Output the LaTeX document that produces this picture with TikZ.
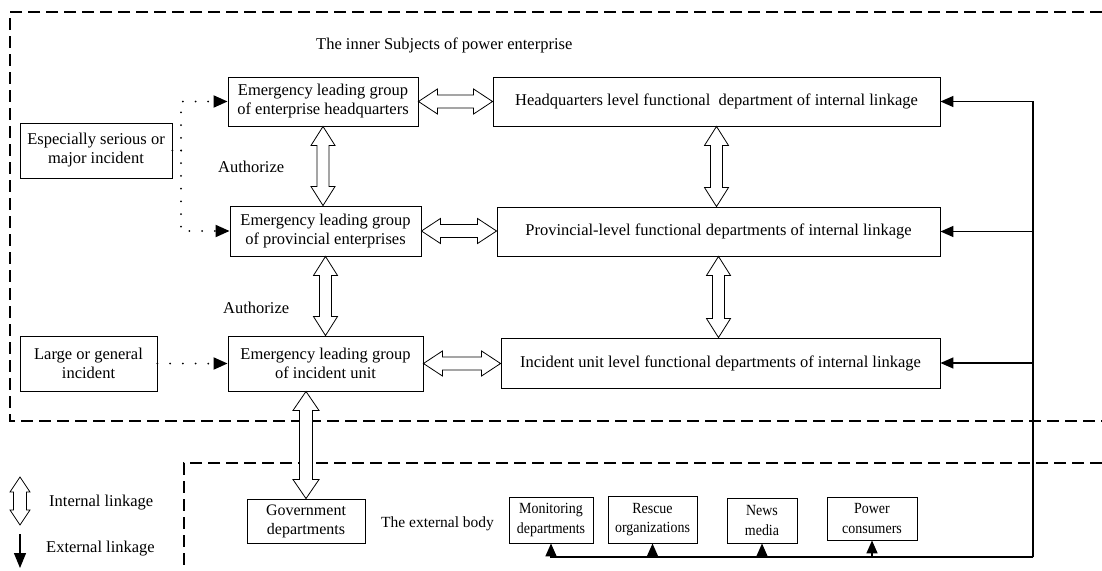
\documentclass[tikz,border=0pt]{standalone}
\usepackage{fontspec}
\setmainfont{Liberation Serif}
\newfontfamily\condfont[FakeStretch=0.9]{Liberation Serif}
\usetikzlibrary{arrows.meta,calc}

% vertical hollow double arrow: top tip #1, bottom tip #2 (x taken from #2)
\newcommand{\vdbl}[5]{%
  \draw[hollow] let \p1=#1, \p2=#2 in
    (\x2,\y1) -- (\x2+#3,\y1-#5) -- (\x2+#4,\y1-#5) -- (\x2+#4,\y2+#5)
    -- (\x2+#3,\y2+#5) -- (\x2,\y2) -- (\x2-#3,\y2+#5) -- (\x2-#4,\y2+#5)
    -- (\x2-#4,\y1-#5) -- (\x2-#3,\y1-#5) -- cycle;}
% horizontal hollow double arrow: left tip #1, right tip #2 (y taken from #1)
\newcommand{\hdbl}[5]{%
  \draw[hollow] let \p1=#1, \p2=#2 in
    (\x1,\y1) -- (\x1+#5,\y1+#3) -- (\x1+#5,\y1+#4) -- (\x2-#5,\y1+#4)
    -- (\x2-#5,\y1+#3) -- (\x2,\y1) -- (\x2-#5,\y1-#3) -- (\x2-#5,\y1-#4)
    -- (\x1+#5,\y1-#4) -- (\x1+#5,\y1-#3) -- cycle;}

\begin{document}
\begin{tikzpicture}[x=1pt,y=-1pt,
  font=\fontsize{16.5}{19}\selectfont,
  box/.style={draw, line width=0.9pt, align=center, inner sep=0pt},
  smallbox/.style={box, font=\condfont\fontsize{15.5}{19.5}\selectfont},
  hollow/.style={draw, line width=0.8pt, fill=white, line join=miter},
  dotline/.style={line width=2pt, dash pattern=on 0pt off 12.7pt, line cap=round},
  ext/.style={line width=1.6pt},
  dashbox/.style={line width=1.2pt, dash pattern=on 12pt off 6pt},
  solidtip/.style={-{Triangle[length=13pt,width=11pt]}},
  dottip/.style={-{Triangle[length=14pt,width=12pt]}},
  lbl/.style={anchor=west, inner sep=0pt}
]
\useasboundingbox (0,0) rectangle (1102,570);

% dashed frames
\draw[dashbox] (1102,12) -- (10,12) -- (10,421) -- (1102,421);
\draw[dashbox] (1102,463) -- (184,463) -- (184,570);

% inner subjects
\node[lbl] (title) at (316,45) {The inner Subjects of power enterprise};

\node[box, minimum width=190pt, minimum height=49pt] (hqg) at (323,101.5)
  {Emergency leading group\\of enterprise headquarters};
\node[box, minimum width=191pt, minimum height=50pt] (provg) at (325.5,231)
  {Emergency leading group\\of provincial enterprises};
\node[box, minimum width=195pt, minimum height=55pt] (incg) at (325.5,363.5)
  {Emergency leading group\\of incident unit};

\node[box, minimum width=152pt, minimum height=55pt] (serious) at (96,150.5)
  {Especially serious or\\major incident};
\node[box, minimum width=137pt, minimum height=55pt] (large) at (88.5,363.5)
  {Large or general\\incident};

\node[box, minimum width=447pt, minimum height=49pt] (hqf) at (716.5,101.5)
  {Headquarters level functional~ department of internal linkage};
\node[box, minimum width=443pt, minimum height=49pt] (provf) at (718.5,231.5)
  {Provincial-level functional departments of internal linkage};
\node[box, minimum width=439pt, minimum height=50pt] (incf) at (720.5,363)
  {Incident unit level functional departments of internal linkage};

\node[lbl] (auth1) at (218,167) {Authorize};
\node[lbl] (auth2) at (223,308) {Authorize};

% external body
\node[box, minimum width=118pt, minimum height=44pt, font=\fontsize{16}{19}\selectfont] (gov) at (306,521)
  {Government\\departments};
\node[lbl, font=\fontsize{15.5}{19}\selectfont] (extlbl) at (381,524) {The external body};
\node[smallbox, minimum width=84pt, minimum height=46pt] (mon) at (551,520)
  {Monitoring\\departments};
\node[smallbox, minimum width=89pt, minimum height=47pt] (res) at (652.5,519.5)
  {Rescue\\organizations};
\node[smallbox, minimum width=70pt, minimum height=45pt] (news) at (762,520.5)
  {News\\media};
\node[smallbox, minimum width=90pt, minimum height=43pt] (power) at (872,518.5)
  {Power\\consumers};

% hollow double arrows (internal linkage)
\hdbl{(hqg.east)}{(hqf.west)}{12.5pt}{6.5pt}{19pt}
\hdbl{(provg.east)}{(provf.west)}{12.5pt}{6.5pt}{19pt}
\hdbl{(incg.east)}{(incf.west)}{12.5pt}{6.5pt}{19pt}
\vdbl{(hqg.south)}{(hqg.south |- provg.north)}{12pt}{6pt}{19pt}
\vdbl{(provg.south)}{(provg.south |- incg.north)}{12pt}{6pt}{19pt}
\vdbl{(incg.south -| gov.north)}{(gov.north)}{13pt}{6.5pt}{19pt}
\vdbl{(hqf.south)}{(hqf.south |- provf.north)}{12pt}{6pt}{19pt}
\vdbl{(provf.south)}{(provf.south |- incf.north)}{12pt}{6pt}{19pt}

% dotted incident connectors
\coordinate (j) at (181,150.5);
\draw[dotline] (serious.east) -- (j);
\draw[dotline, dottip] (j) |- (hqg.west);
\draw[dotline, dottip] (j) |- (provg.west);
\draw[dotline, dottip] (large.east) -- (incg.west);

% external linkage connectors
\coordinate (corner) at (1033,557);
\draw[ext, solidtip] (corner) |- (hqf.east);
\draw[ext, solidtip] (corner) |- (provf.east);
\draw[ext, solidtip] (corner) |- (incf.east);
\draw[ext, solidtip] (corner) -| (mon.south);
\draw[ext, solidtip] (corner) -| (res.south);
\draw[ext, solidtip] (corner) -| (news.south);
\draw[ext, solidtip] (corner) -| (power.south);

% legend
\coordinate (lia) at (20,477);
\coordinate (lib) at (20,525);
\vdbl{(lia)}{(lib)}{10pt}{6.5pt}{15pt}
\node[lbl] (liltxt) at (49,503) {Internal linkage};
\coordinate (lea) at (20,534);
\coordinate (leb) at (20,568);
\draw[line width=1.2pt, -{Triangle[length=15pt,width=12pt]}] (lea) -- (leb);
\node[lbl] (eltxt) at (46,549) {External linkage};
\end{tikzpicture}
\end{document}
